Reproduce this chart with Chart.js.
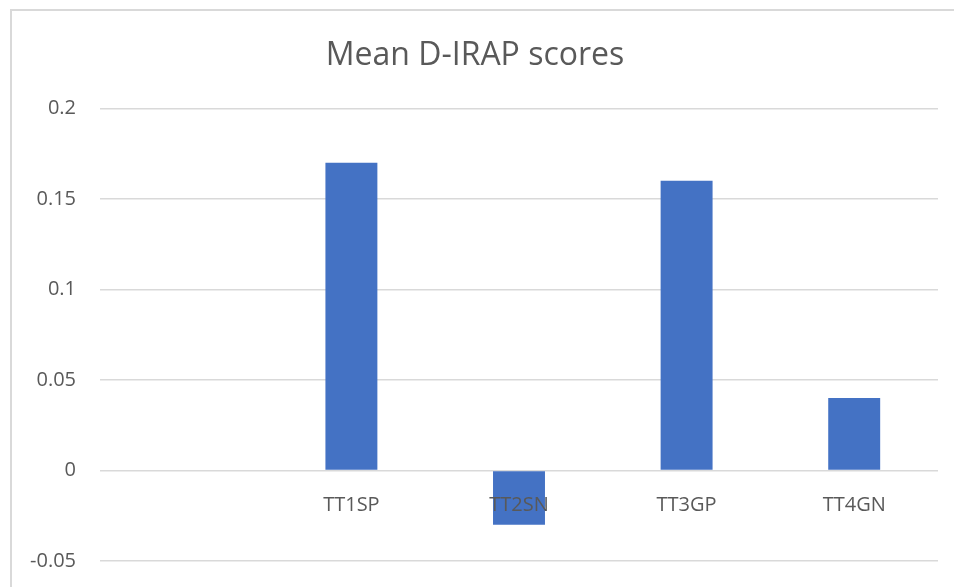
<!DOCTYPE html>
<html>
<head>
<meta charset="utf-8">
<script src="https://cdn.jsdelivr.net/npm/chart.js@4"></script>
<style>
  html, body { margin: 0; padding: 0; background: #fff; overflow: hidden; }
  #frame {
    position: absolute; left: 10px; top: 9px;
    width: 954px; height: 600px;
    border: 2px solid #d9d9d9; background: #fff;
  }
</style>
</head>
<body>
<div id="frame"><canvas id="chart" width="954" height="600"></canvas></div>
<script>
// categories (first slot is empty in the original sheet)
const categories = ['', 'TT1SP', 'TT2SN', 'TT3GP', 'TT4GN'];
const meanScores = [null, 0.17, -0.03, 0.16, 0.04];
const yMin = -0.05;
const yMax = 0.2;
const yStep = 0.05;

const textGray = '#595959';
const gridGray = '#d9d9d9';

const ctx = document.getElementById('chart').getContext('2d');
new Chart(ctx, {
  type: 'bar',
  data: {
    labels: categories,
    datasets: [{
      label: 'Mean D-IRAP',
      data: meanScores,
      backgroundColor: '#4472c4',
      borderWidth: 0,
      barPercentage: 0.31,
      categoryPercentage: 1
    }]
  },
  options: {
    responsive: false,
    animation: false,
    layout: { padding: { left: 0, right: 28, top: 0, bottom: 50 } },
    plugins: {
      legend: { display: false },
      tooltip: { enabled: false },
      title: {
        display: true,
        text: 'Mean D-IRAP scores',
        color: textGray,
        font: { family: 'Open Sans', size: 32, weight: 'normal' },
        padding: { top: 26, bottom: 33 }
      }
    },
    scales: {
      x: {
        position: { y: 0 },
        grid: { display: false },
        border: { display: false },
        ticks: {
          z: 1, // labels sit on top of the negative bar
          color: textGray,
          font: { family: 'Open Sans', size: 20 },
          padding: 15
        }
      },
      y: {
        min: yMin,
        max: yMax,
        grid: { color: gridGray, lineWidth: 1.5, drawTicks: false },
        border: { display: false },
        ticks: {
          stepSize: yStep,
          color: textGray,
          font: { family: 'Open Sans', size: 20 },
          padding: 24,
          callback: (v) => String(parseFloat(v.toFixed(2)))
        },
        afterFit: (scale) => { scale.width = 88; }
      }
    }
  }
});
</script>
</body>
</html>
